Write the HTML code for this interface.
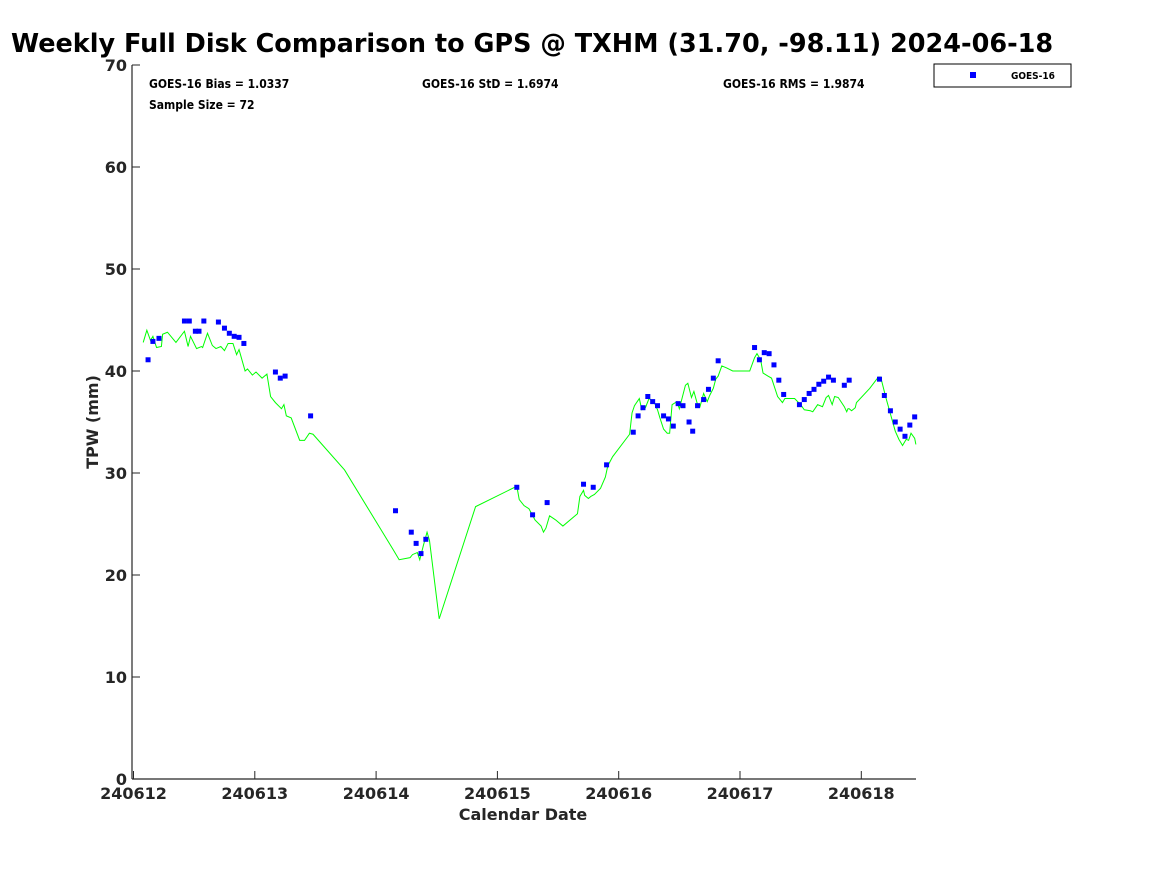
<!DOCTYPE html>
<html><head><meta charset="utf-8"><style>
body{margin:0;background:#fff;}
svg text{font-family:"DejaVu Sans","Liberation Sans",sans-serif;font-weight:bold;fill:#262626;}
.st{font-size:12px;font-stretch:condensed;fill:#000;}
</style></head><body>
<svg id="chart" width="1167" height="875" xmlns="http://www.w3.org/2000/svg">
<text x="11" y="52" style="font-size:25.5px;fill:#000">Weekly Full Disk Comparison to GPS @ TXHM (31.70, -98.11) 2024-06-18</text>
<g id="axes"></g>
<g id="series"></g>
<text class="st" x="149" y="88">GOES-16 Bias = 1.0337</text>
<text class="st" x="422" y="88">GOES-16 StD = 1.6974</text>
<text class="st" x="723" y="88">GOES-16 RMS = 1.9874</text>
<text class="st" x="149" y="109">Sample Size = 72</text>
<g>
<rect x="934" y="64" width="137" height="23" fill="#fff" stroke="#000" stroke-width="1"/>
<rect x="970" y="72" width="6" height="6" fill="#0000ff"/>
<text x="1011" y="79" style="font-size:10px;font-stretch:condensed;fill:#000">GOES-16</text>
</g>
<text x="523" y="820" text-anchor="middle" style="font-size:16px">Calendar Date</text>
<text x="98" y="422" text-anchor="middle" transform="rotate(-90 98 422)" style="font-size:16px">TPW (mm)</text>
</svg>
<script>
const xTickLabels=["240612","240613","240614","240615","240616","240617","240618"];
const yTickLabels=[0,10,20,30,40,50,60,70];
const ptDays=[0.12,0.16,0.21,0.42,0.46,0.51,0.54,0.58,0.70,0.75,0.79,0.83,0.87,0.91,1.17,1.21,1.25,1.46,2.16,2.29,2.33,2.37,2.41,3.16,3.29,3.41,3.71,3.79,3.90,4.12,4.16,4.20,4.24,4.28,4.32,4.37,4.41,4.45,4.49,4.53,4.58,4.61,4.65,4.70,4.74,4.78,4.82,5.12,5.16,5.20,5.24,5.28,5.32,5.36,5.49,5.53,5.57,5.61,5.65,5.69,5.73,5.77,5.86,5.90,6.15,6.19,6.24,6.28,6.32,6.36,6.40,6.44];
const ptTpw=[41.1,42.9,43.2,44.9,44.9,43.9,43.9,44.9,44.8,44.2,43.7,43.4,43.3,42.7,39.9,39.3,39.5,35.6,26.3,24.2,23.1,22.1,23.5,28.6,25.9,27.1,28.9,28.6,30.8,34.0,35.6,36.4,37.5,37.0,36.6,35.6,35.3,34.6,36.8,36.6,35.0,34.1,36.6,37.2,38.2,39.3,41.0,42.3,41.1,41.8,41.7,40.6,39.1,37.7,36.7,37.2,37.8,38.2,38.7,39.0,39.4,39.1,38.6,39.1,39.2,37.6,36.1,35.0,34.3,33.6,34.7,35.5];
const gpsDays=[0.08,0.11,0.14,0.16,0.19,0.23,0.24,0.28,0.35,0.42,0.45,0.47,0.52,0.56,0.57,0.61,0.65,0.68,0.72,0.75,0.78,0.82,0.85,0.87,0.92,0.94,0.98,1.01,1.06,1.10,1.13,1.17,1.22,1.24,1.26,1.30,1.37,1.41,1.45,1.48,1.74,2.14,2.19,2.28,2.30,2.34,2.36,2.39,2.42,2.44,2.52,2.82,3.16,3.18,3.22,3.26,3.31,3.36,3.38,3.40,3.43,3.48,3.54,3.66,3.68,3.71,3.72,3.75,3.77,3.80,3.85,3.89,3.91,3.95,4.09,4.11,4.13,4.17,4.19,4.22,4.25,4.29,4.32,4.34,4.37,4.40,4.42,4.44,4.48,4.50,4.55,4.57,4.60,4.62,4.65,4.67,4.70,4.73,4.75,4.78,4.80,4.82,4.85,4.89,4.94,5.08,5.12,5.14,5.17,5.19,5.23,5.26,5.31,5.35,5.37,5.45,5.50,5.53,5.58,5.60,5.64,5.68,5.71,5.73,5.76,5.78,5.81,5.86,5.88,5.89,5.90,5.92,5.95,5.96,6.07,6.14,6.16,6.20,6.24,6.28,6.31,6.34,6.37,6.39,6.41,6.44,6.45];
const gpsTpw=[42.8,44.0,43.0,43.4,42.3,42.4,43.6,43.8,42.8,43.9,42.4,43.4,42.2,42.4,42.3,43.7,42.5,42.2,42.4,42.0,42.7,42.7,41.6,42.1,40.0,40.2,39.6,39.9,39.3,39.7,37.5,36.9,36.3,36.7,35.6,35.4,33.2,33.2,33.9,33.8,30.3,22.5,21.5,21.7,22.0,22.2,21.5,22.9,24.2,23.4,15.7,26.7,28.7,27.4,26.8,26.5,25.4,24.8,24.2,24.6,25.8,25.4,24.8,26.0,27.7,28.3,27.8,27.5,27.7,27.9,28.5,29.6,30.7,31.6,33.8,35.9,36.6,37.3,36.2,36.4,37.3,37.0,36.2,35.4,34.3,33.9,33.9,36.7,37.0,36.3,38.6,38.8,37.4,38.0,36.7,36.5,37.8,37.0,37.6,38.3,39.2,39.5,40.5,40.3,40.0,40.0,41.3,41.7,41.1,39.8,39.5,39.3,37.5,36.9,37.3,37.3,36.7,36.2,36.1,36.0,36.7,36.5,37.4,37.6,36.7,37.5,37.4,36.5,36.0,36.3,36.3,36.1,36.4,36.9,38.3,39.4,39.4,37.5,35.8,34.1,33.3,32.7,33.3,33.2,33.9,33.4,32.8];
const NS="http://www.w3.org/2000/svg";
const X0=133.5,DAY=121.3,Y0=779,YU=10.2;
const xs=d=>X0+d*DAY, ys=v=>Y0-v*YU;
function mk(t,a,p){const e=document.createElementNS(NS,t);for(const k in a)e.setAttribute(k,a[k]);p.appendChild(e);return e;}
const ax=document.getElementById('axes'),se=document.getElementById('series');
const yl=mk('line',{x1:132,y1:65,x2:132,y2:779,stroke:'#262626','stroke-width':1.2},ax);


const xl=mk('line',{x1:132,y1:779,x2:916,y2:779,stroke:'#262626','stroke-width':1.2},ax);


yTickLabels.forEach(v=>{
 const y=ys(v);
 mk('line',{x1:132,y1:y,x2:140,y2:y,stroke:'#262626'},ax);
 const t=mk('text',{x:127,y:y+6,'text-anchor':'end',style:'font-size:16px'},ax);
 t.textContent=v;
 
 
});
xTickLabels.forEach((l,i)=>{
 const x=xs(i);
 mk('line',{x1:x,y1:779,x2:x,y2:771,stroke:'#262626'},ax);
 const t=mk('text',{x:x,y:799,'text-anchor':'middle',style:'font-size:16px'},ax);
 t.textContent=l;
 
 
});
const gl=mk('polyline',{points:gpsDays.map((d,i)=>xs(d)+','+ys(gpsTpw[i])).join(' '),fill:'none',stroke:'#00ff00','stroke-width':1},se);


ptDays.forEach((d,i)=>{
 const r=mk('rect',{x:xs(d)-2.5,y:ys(ptTpw[i])-2.5,width:5,height:5,fill:'#0000ff'},se);
 
 
});
</script>
</body></html>
